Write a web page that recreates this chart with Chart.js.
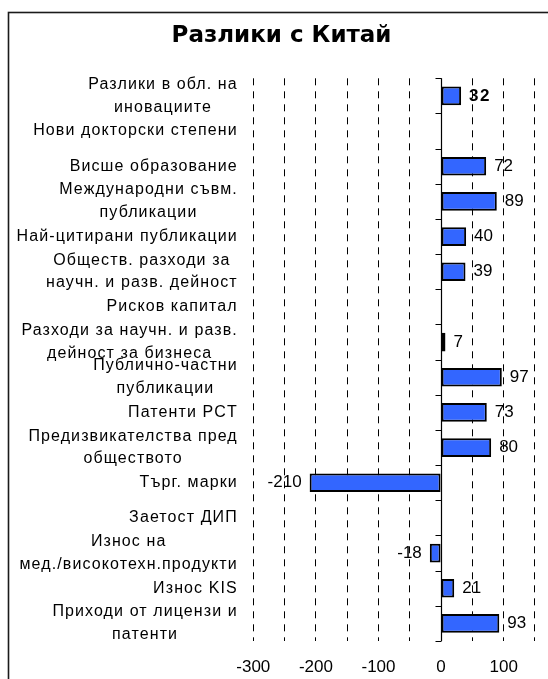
<!DOCTYPE html>
<html>
<head>
<meta charset="utf-8">
<script src="https://cdn.jsdelivr.net/npm/chart.js@4.4.1/dist/chart.umd.min.js"></script>
<style>
html,body{margin:0;padding:0;background:#fff;}
#wrap{width:548px;height:679px;position:relative;}
</style>
</head>
<body>
<div id="wrap"><canvas id="c" width="548" height="679"></canvas></div>
<script>
const titleText = "Разлики с Китай";
const categories = [
  ["Разлики в обл. на", "иновациите"],
  ["Нови докторски степени"],
  ["Висше образование"],
  ["Международни съвм.", "публикации"],
  ["Най-цитирани публикации"],
  ["Обществ. разходи за", "научн. и разв. дейност"],
  ["Рисков капитал"],
  ["Разходи за научн. и разв.", "дейност за бизнеса"],
  ["Публично-частни", "публикации"],
  ["Патенти PCT"],
  ["Предизвикателства пред", "обществото"],
  ["Търг. марки"],
  ["Заетост ДИП"],
  ["Износ на", "мед./високотехн.продукти"],
  ["Износ KIS"],
  ["Приходи от лицензи и", "патенти"]
];
const values = [32, null, 72, 89, 40, 39, null, 7, 97, 73, 80, -210, null, -18, 21, 93];
const xMin = -300;
const xMax = 170.8;
const gridStep = 50;
const gridLast = 150;
const labelStep = 100;

const LABEL_FONT = '16px "Liberation Sans", Arial, sans-serif';
const VALUE_FONT = '17px "Liberation Sans", Arial, sans-serif';
const VALUE_FONT_BOLD = 'bold 17px "Liberation Sans", Arial, sans-serif';

const framePlugin = {
  id: 'frame',
  beforeDraw(chart) {
    const ctx = chart.ctx;
    ctx.save();
    ctx.fillStyle = '#fff';
    ctx.fillRect(0, 0, chart.width, chart.height);
    ctx.strokeStyle = '#1a1a1a';
    ctx.lineWidth = 1.6;
    ctx.strokeRect(8.5, 12.5, 700, 800);
    ctx.restore();
  }
};

const zeroLinePlugin = {
  id: 'zeroLine',
  beforeDatasetsDraw(chart) {
    const ctx = chart.ctx;
    const xs = chart.scales.x;
    const x0 = Math.round(xs.getPixelForValue(0)) + 0.5;
    const top = chart.chartArea.top, bottom = chart.chartArea.bottom;
    const n = categories.length;
    const step = (bottom - top) / n;
    ctx.save();
    ctx.strokeStyle = '#000';
    ctx.lineWidth = 1.2;
    ctx.beginPath();
    ctx.moveTo(x0, top);
    ctx.lineTo(x0, bottom);
    for (let i = 0; i <= n; i++) {
      const y = Math.round(top + i * step) + 0.5;
      ctx.moveTo(x0 - 6, y);
      ctx.lineTo(x0, y);
    }
    ctx.stroke();
    ctx.restore();
  }
};

const catLabelPlugin = {
  id: 'catLabels',
  afterDraw(chart) {
    const ctx = chart.ctx;
    const ys = chart.scales.y;
    const right = chart.chartArea.left - 15.5;
    const lh = 22.7;
    ctx.save();
    ctx.font = LABEL_FONT;
    if ('letterSpacing' in ctx) ctx.letterSpacing = '1.1px';
    ctx.fillStyle = '#000';
    ctx.textAlign = 'center';
    ctx.textBaseline = 'middle';
    categories.forEach((lines, i) => {
      const cy = ys.getPixelForValue(i);
      const w = Math.max(...lines.map(l => ctx.measureText(l).width));
      const cx = right - w / 2;
      lines.forEach((l, j) => {
        ctx.fillText(l, cx, cy + (j - (lines.length - 1) / 2) * lh);
      });
    });
    ctx.restore();
  }
};

const valueLabelPlugin = {
  id: 'valueLabels',
  afterDatasetsDraw(chart) {
    const ctx = chart.ctx;
    const meta = chart.getDatasetMeta(0);
    ctx.save();
    ctx.fillStyle = '#000';
    ctx.textBaseline = 'middle';
    meta.data.forEach((bar, i) => {
      const v = values[i];
      if (v === null || v === undefined) return;
      ctx.font = i === 0 ? VALUE_FONT_BOLD : VALUE_FONT;
      if ('letterSpacing' in ctx) ctx.letterSpacing = i === 0 ? '1.5px' : '0px';
      if (v >= 0) {
        ctx.textAlign = 'left';
        ctx.fillText(String(v), bar.x + 8, bar.y);
      } else {
        ctx.textAlign = 'right';
        ctx.fillText(String(v), bar.x - 8, bar.y);
      }
    });
    ctx.restore();
  }
};

new Chart(document.getElementById('c'), {
  type: 'bar',
  data: {
    labels: categories,
    datasets: [{
      data: values,
      backgroundColor: '#3366FF',
      borderColor: '#000000',
      borderWidth: 2,
      borderSkipped: false,
      categoryPercentage: 1,
      barPercentage: 0.53
    }]
  },
  options: {
    indexAxis: 'y',
    responsive: false,
    animation: false,
    layout: { padding: { left: 15, right: 0, top: 0, bottom: 0 } },
    plugins: {
      legend: { display: false },
      tooltip: { enabled: false },
      title: {
        display: true,
        text: titleText,
        color: '#000',
        font: { family: '"DejaVu Sans", sans-serif', size: 23, weight: 'bold', lineHeight: 1.2 },
        padding: { top: 22, bottom: 28.7 }
      }
    },
    scales: {
      x: {
        type: 'linear',
        min: xMin,
        max: xMax,
        afterFit(s) { s.height = 38; s.paddingLeft = 0; s.paddingRight = 0; },
        afterBuildTicks(s) {
          const t = [];
          for (let v = xMin; v <= gridLast; v += gridStep) t.push({ value: v });
          s.ticks = t;
        },
        ticks: {
          stepSize: gridStep,
          padding: 16.5,
          color: '#000',
          font: { family: '"Liberation Sans", Arial, sans-serif', size: 17 },
          maxRotation: 0,
          autoSkip: false,
          callback: (v) => (v % labelStep === 0 ? String(v) : '')
        },
        grid: {
          drawTicks: false,
          lineWidth: 1,
          color: (c) => (c.tick && c.tick.value === 0 ? 'rgba(0,0,0,0)' : '#000')
        },
        border: { display: false, dash: [7, 6] }
      },
      y: {
        type: 'category',
        afterFit(s) { s.width = 238.3; },
        ticks: { display: false },
        grid: { display: false },
        border: { display: false }
      }
    }
  },
  plugins: [framePlugin, zeroLinePlugin, valueLabelPlugin, catLabelPlugin]
});
</script>
</body>
</html>
